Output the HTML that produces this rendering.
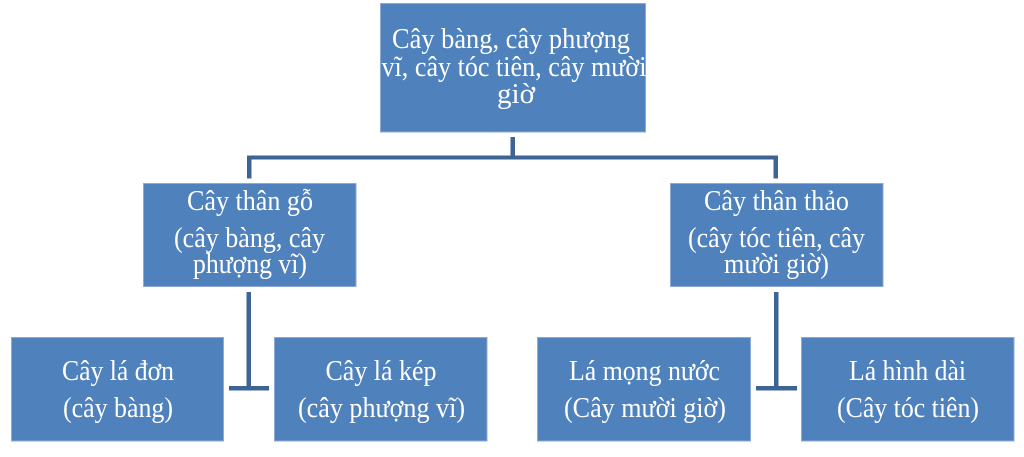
<!DOCTYPE html>
<html>
<head>
<meta charset="utf-8">
<style>
html,body{margin:0;padding:0;background:#fff;}
svg{display:block;}
text{font-family:"Liberation Serif","Noto Serif CJK SC",serif;font-size:28px;fill:#fff;}
</style>
</head>
<body>
<svg width="1024" height="457" viewBox="0 0 1024 457" xmlns="http://www.w3.org/2000/svg">
  <rect x="0" y="0" width="1024" height="457" fill="#ffffff"/>
  <!-- connectors -->
  <g fill="#3e6496">
    <rect x="510.5" y="137" width="4.5" height="22"/>
    <rect x="247" y="155.5" width="531" height="4"/>
    <rect x="247" y="155.5" width="4.5" height="23"/>
    <rect x="773.5" y="155.5" width="4.5" height="23"/>
    <!-- left sub tree -->
    <rect x="246.5" y="292" width="4.5" height="97"/>
    <rect x="229" y="386" width="40" height="4.5"/>
    <!-- right sub tree -->
    <rect x="774" y="292" width="4.5" height="97"/>
    <rect x="756" y="386" width="41" height="4.5"/>
  </g>
  <!-- boxes -->
  <g fill="#4f81bd" stroke="#8eaad4" stroke-width="1">
    <rect x="380.5" y="3.5" width="265" height="128.5"/>
    <rect x="143.5" y="183.5" width="212.5" height="103"/>
    <rect x="670.5" y="183.5" width="212.5" height="103"/>
    <rect x="11.5" y="337.5" width="212" height="103.5"/>
    <rect x="274.5" y="337.5" width="212.5" height="103.5"/>
    <rect x="537.5" y="337.5" width="213" height="103.5"/>
    <rect x="801.5" y="337.5" width="212.5" height="103.5"/>
  </g>
  <!-- top box text -->
  <text x="511" y="48" text-anchor="middle" textLength="238" lengthAdjust="spacingAndGlyphs">Cây bàng, cây phượng</text>
  <text x="514" y="76" text-anchor="middle" textLength="265" lengthAdjust="spacingAndGlyphs">vĩ, cây tóc tiên, cây mười</text>
  <text x="516" y="103" text-anchor="middle" textLength="38" lengthAdjust="spacingAndGlyphs">giờ</text>
  <!-- middle left -->
  <text x="250" y="210" text-anchor="middle" textLength="126" lengthAdjust="spacingAndGlyphs">Cây thân gỗ</text>
  <text x="249.5" y="247" text-anchor="middle" textLength="151" lengthAdjust="spacingAndGlyphs">(cây bàng, cây</text>
  <text x="250" y="273" text-anchor="middle" textLength="114" lengthAdjust="spacingAndGlyphs">phượng vĩ)</text>
  <!-- middle right -->
  <text x="776.5" y="210" text-anchor="middle" textLength="145" lengthAdjust="spacingAndGlyphs">Cây thân thảo</text>
  <text x="776.5" y="247" text-anchor="middle" textLength="177" lengthAdjust="spacingAndGlyphs">(cây tóc tiên, cây</text>
  <text x="776.5" y="273" text-anchor="middle" textLength="105" lengthAdjust="spacingAndGlyphs">mười giờ)</text>
  <!-- bottom boxes -->
  <text x="118" y="380" text-anchor="middle" textLength="112" lengthAdjust="spacingAndGlyphs">Cây lá đơn</text>
  <text x="118" y="417" text-anchor="middle" textLength="110" lengthAdjust="spacingAndGlyphs">(cây bàng)</text>
  <text x="381" y="380" text-anchor="middle" textLength="111" lengthAdjust="spacingAndGlyphs">Cây lá kép</text>
  <text x="381.5" y="417" text-anchor="middle" textLength="167" lengthAdjust="spacingAndGlyphs">(cây phượng vĩ)</text>
  <text x="644.5" y="380" text-anchor="middle" textLength="151" lengthAdjust="spacingAndGlyphs">Lá mọng nước</text>
  <text x="645" y="417" text-anchor="middle" textLength="162" lengthAdjust="spacingAndGlyphs">(Cây mười giờ)</text>
  <text x="907.5" y="380" text-anchor="middle" textLength="117" lengthAdjust="spacingAndGlyphs">Lá hình dài</text>
  <text x="908" y="417" text-anchor="middle" textLength="142" lengthAdjust="spacingAndGlyphs">(Cây tóc tiên)</text>
</svg>
</body>
</html>
